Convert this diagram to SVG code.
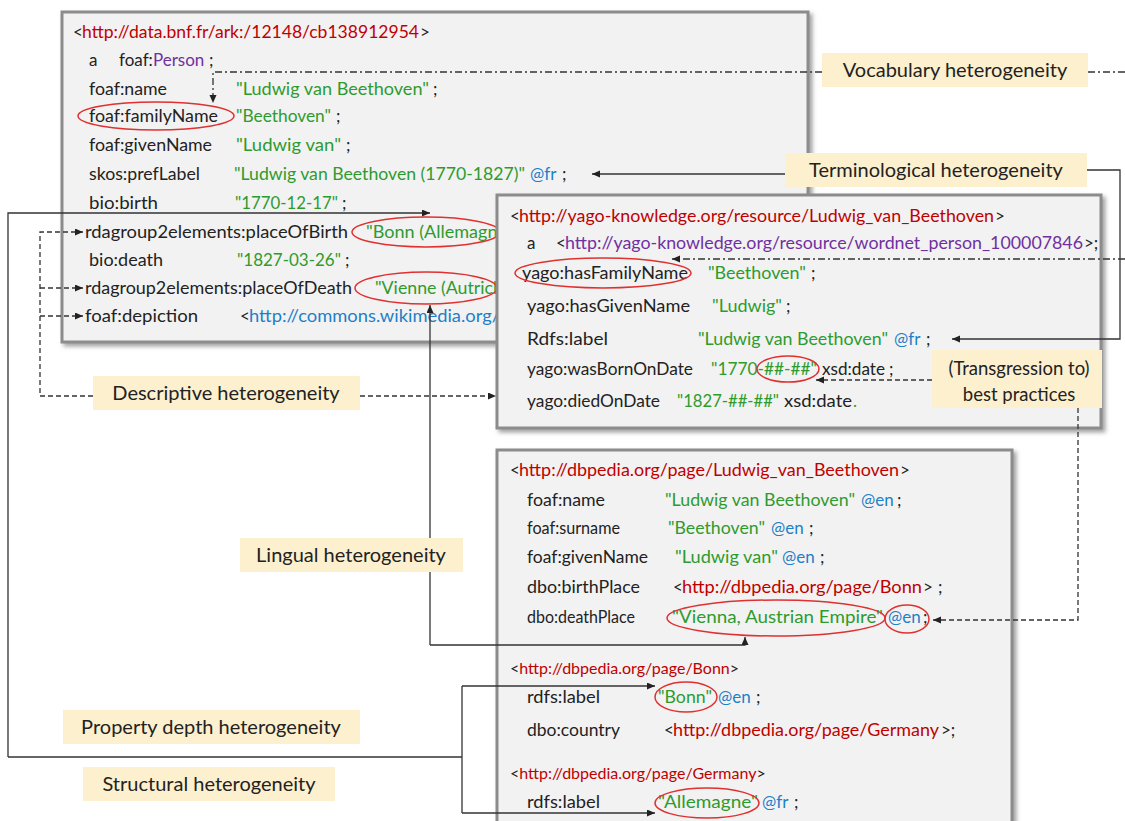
<svg xmlns="http://www.w3.org/2000/svg" width="1125" height="821" viewBox="0 0 1125 821">
<style>
text{font-family:Lato,"Open Sans","Liberation Sans",sans-serif;font-size:17px;fill:#222}
.r{fill:#C00000}.g{fill:#2E9B2E}.p{fill:#7030A0}.b{fill:#1F7FC8}
.box{fill:#F2F2F2;stroke:#8C8C8C;stroke-width:3}
.ell{fill:none;stroke:#E03030;stroke-width:1.5}
.lab{fill:#FDF0CF}
.lt{font-size:20px;text-anchor:middle}
.c{fill:none;stroke:#333;stroke-width:1.3}
.dd{stroke-dasharray:7 3 2 3}
.da{stroke-dasharray:5 3}
</style>
<defs>
<marker id="arr" markerUnits="userSpaceOnUse" markerWidth="9" markerHeight="8" refX="8" refY="3.5" orient="auto"><path d="M0,0 L8,3.5 L0,7 z" fill="#222"/></marker>
<filter id="sh" x="-5%" y="-5%" width="110%" height="110%"><feDropShadow dx="3" dy="3" stdDeviation="2" flood-color="#666" flood-opacity="0.6"/></filter>
</defs>

<g id="node-bnf">
<rect class="box" x="62" y="12" width="746" height="330" filter="url(#sh)"/>
<text x="73" y="38">&lt;</text><text class="r" x="82" y="38" textLength="337" lengthAdjust="spacingAndGlyphs">http://data.bnf.fr/ark:/12148/cb138912954</text><text x="420" y="38">&gt;</text>
<text x="89" y="66">a</text><text x="119" y="66">foaf:</text><text class="p" x="153" y="66">Person</text><text x="209" y="66">;</text>
<text x="89" y="95" textLength="78" lengthAdjust="spacingAndGlyphs">foaf:name</text><text class="g" x="236" y="95" textLength="193" lengthAdjust="spacingAndGlyphs">"Ludwig van Beethoven"</text><text x="433" y="95">;</text>
<text x="89" y="122" textLength="129" lengthAdjust="spacingAndGlyphs">foaf:familyName</text><text class="g" x="236" y="122" textLength="95" lengthAdjust="spacingAndGlyphs">"Beethoven"</text><text x="336" y="122">;</text>
<text x="89" y="151" textLength="123" lengthAdjust="spacingAndGlyphs">foaf:givenName</text><text class="g" x="236" y="151" textLength="105" lengthAdjust="spacingAndGlyphs">"Ludwig van"</text><text x="346" y="151">;</text>
<text x="89" y="180" textLength="111" lengthAdjust="spacingAndGlyphs">skos:prefLabel</text><text class="g" x="234" y="180" textLength="291" lengthAdjust="spacingAndGlyphs">"Ludwig van Beethoven (1770-1827)"</text><text class="b" x="530" y="180">@fr</text><text x="562" y="180">;</text>
<text x="89" y="209" textLength="69" lengthAdjust="spacingAndGlyphs">bio:birth</text><text class="g" x="235" y="209" textLength="103" lengthAdjust="spacingAndGlyphs">"1770-12-17"</text><text x="342" y="209">;</text>
<text x="85" y="238" textLength="263" lengthAdjust="spacingAndGlyphs">rdagroup2elements:placeOfBirth</text><text class="g" x="366" y="238" textLength="141" lengthAdjust="spacingAndGlyphs">"Bonn (Allemagne</text>
<text x="89" y="266" textLength="74" lengthAdjust="spacingAndGlyphs">bio:death</text><text class="g" x="237" y="266" textLength="104" lengthAdjust="spacingAndGlyphs">"1827-03-26"</text><text x="345" y="266">;</text>
<text x="85" y="294" textLength="267" lengthAdjust="spacingAndGlyphs">rdagroup2elements:placeOfDeath</text><text class="g" x="375" y="294" textLength="128" lengthAdjust="spacingAndGlyphs">"Vienne (Autrich</text>
<text x="85" y="322" textLength="113" lengthAdjust="spacingAndGlyphs">foaf:depiction</text><text x="240" y="322">&lt;</text><text class="b" x="249" y="322" textLength="251" lengthAdjust="spacingAndGlyphs">http://commons.wikimedia.org/</text>
<ellipse class="ell" cx="156" cy="116" rx="78" ry="14"/>
<ellipse class="ell" cx="426" cy="232" rx="74" ry="15"/>
<ellipse class="ell" cx="426" cy="288" rx="71" ry="16"/>
</g>

<g id="node-yago">
<rect class="box" x="497" y="195" width="604" height="233" filter="url(#sh)"/>
<text x="510" y="222">&lt;</text><text class="r" x="519" y="222" textLength="475" lengthAdjust="spacingAndGlyphs">http://yago-knowledge.org/resource/Ludwig_van_Beethoven</text><text x="995" y="222">&gt;</text>
<text x="527" y="249">a</text><text x="556" y="249">&lt;</text><text class="p" x="565" y="249" textLength="518" lengthAdjust="spacingAndGlyphs">http://yago-knowledge.org/resource/wordnet_person_100007846</text><text x="1084" y="249">&gt;;</text>
<text x="522" y="279" textLength="166" lengthAdjust="spacingAndGlyphs">yago:hasFamilyName</text><text class="g" x="708" y="279" textLength="98" lengthAdjust="spacingAndGlyphs">"Beethoven"</text><text x="811" y="279">;</text>
<text x="527" y="312" textLength="163" lengthAdjust="spacingAndGlyphs">yago:hasGivenName</text><text class="g" x="712" y="312" textLength="70" lengthAdjust="spacingAndGlyphs">"Ludwig"</text><text x="786" y="312">;</text>
<text x="527" y="345" textLength="81" lengthAdjust="spacingAndGlyphs">Rdfs:label</text><text class="g" x="698" y="345" textLength="190" lengthAdjust="spacingAndGlyphs">"Ludwig van Beethoven"</text><text class="b" x="894" y="345">@fr</text><text x="926" y="345">;</text>
<text x="527" y="375" textLength="166" lengthAdjust="spacingAndGlyphs">yago:wasBornOnDate</text><text class="g" x="711" y="375" textLength="106" lengthAdjust="spacingAndGlyphs">"1770-##-##"</text><text x="822" y="375" textLength="63" lengthAdjust="spacingAndGlyphs">xsd:date</text><text x="889" y="375">;</text>
<text x="527" y="407" textLength="133" lengthAdjust="spacingAndGlyphs">yago:diedOnDate</text><text class="g" x="677" y="407" textLength="102" lengthAdjust="spacingAndGlyphs">"1827-##-##"</text><text x="784" y="407" textLength="68" lengthAdjust="spacingAndGlyphs">xsd:date</text><text class="g" x="853" y="407">.</text>
<ellipse class="ell" cx="603" cy="273" rx="88" ry="15"/>
<ellipse class="ell" cx="788" cy="369" rx="31" ry="13"/>
</g>

<g id="node-dbpedia">
<rect class="box" x="497" y="450" width="515" height="385" filter="url(#sh)"/>
<text x="510" y="476">&lt;</text><text class="r" x="519" y="476" textLength="380" lengthAdjust="spacingAndGlyphs">http://dbpedia.org/page/Ludwig_van_Beethoven</text><text x="900" y="476">&gt;</text>
<text x="527" y="506" textLength="78" lengthAdjust="spacingAndGlyphs">foaf:name</text><text class="g" x="665" y="506" textLength="190" lengthAdjust="spacingAndGlyphs">"Ludwig van Beethoven"</text><text class="b" x="861" y="506">@en</text><text x="897" y="506">;</text>
<text x="527" y="534" textLength="93" lengthAdjust="spacingAndGlyphs">foaf:surname</text><text class="g" x="668" y="534" textLength="97" lengthAdjust="spacingAndGlyphs">"Beethoven"</text><text class="b" x="771" y="534">@en</text><text x="809" y="534">;</text>
<text x="527" y="563" textLength="121" lengthAdjust="spacingAndGlyphs">foaf:givenName</text><text class="g" x="675" y="563" textLength="103" lengthAdjust="spacingAndGlyphs">"Ludwig van"</text><text class="b" x="782" y="563">@en</text><text x="820" y="563">;</text>
<text x="527" y="593" textLength="113" lengthAdjust="spacingAndGlyphs">dbo:birthPlace</text><text x="673" y="593">&lt;</text><text class="r" x="682" y="593" textLength="240" lengthAdjust="spacingAndGlyphs">http://dbpedia.org/page/Bonn</text><text x="923" y="593">&gt;</text><text x="938" y="593">;</text>
<text x="527" y="623" textLength="108" lengthAdjust="spacingAndGlyphs">dbo:deathPlace</text><text class="g" x="672" y="623" textLength="211" lengthAdjust="spacingAndGlyphs">"Vienna, Austrian Empire"</text><text class="b" x="888" y="623">@en</text><text x="923" y="623">;</text>
<ellipse class="ell" cx="776" cy="618" rx="109" ry="18"/>
<ellipse class="ell" cx="907" cy="619" rx="22" ry="14"/>
<text x="510" y="674" style="font-size:16px">&lt;<tspan class="r">http://dbpedia.org/page/Bonn</tspan>&gt;</text>
<text x="527" y="703" textLength="73" lengthAdjust="spacingAndGlyphs">rdfs:label</text><text class="g" x="658" y="703" textLength="54" lengthAdjust="spacingAndGlyphs">"Bonn"</text><text class="b" x="718" y="703">@en</text><text x="756" y="703">;</text>
<text x="527" y="736" textLength="93" lengthAdjust="spacingAndGlyphs">dbo:country</text><text x="664" y="736">&lt;</text><text class="r" x="673" y="736" textLength="266" lengthAdjust="spacingAndGlyphs">http://dbpedia.org/page/Germany</text><text x="941" y="736">&gt;;</text>
<ellipse class="ell" cx="686" cy="697" rx="31" ry="15"/>
<text x="510" y="779" style="font-size:16px">&lt;<tspan class="r">http://dbpedia.org/page/Germany</tspan>&gt;</text>
<text x="527" y="808" textLength="73" lengthAdjust="spacingAndGlyphs">rdfs:label</text><text class="g" x="658" y="808" textLength="100" lengthAdjust="spacingAndGlyphs">"Allemagne"</text><text class="b" x="762" y="808">@fr</text><text x="794" y="808">;</text>
<ellipse class="ell" cx="707" cy="803" rx="52" ry="15"/>
</g>

<g id="connectors">
<path class="c dd" d="M822,72 H213 V103" marker-end="url(#arr)"/>
<path class="c dd" d="M1088,72 H1125"/>
<path class="c dd" d="M1125,259 H672" marker-end="url(#arr)"/>
<path class="c" d="M785,174 H592" marker-end="url(#arr)"/>
<path class="c" d="M1087,170 H1120 V339 H952" marker-end="url(#arr)"/>
<path class="c da" d="M932,380 H816" marker-end="url(#arr)"/>
<path class="c da" d="M1078,408 V620 H933" marker-end="url(#arr)"/>
<path class="c da" d="M360,396 H496" marker-end="url(#arr)"/>
<path class="c da" d="M93,396 H40 V232 H83" marker-end="url(#arr)"/>
<path class="c da" d="M40,288 H83" marker-end="url(#arr)"/>
<path class="c da" d="M40,316 H83" marker-end="url(#arr)"/>
<path class="c" d="M430,645 V305" marker-end="url(#arr)"/>
<path class="c" d="M430,645 H745 V637" marker-end="url(#arr)"/>
<path class="c" d="M8,757 V213 H430" marker-end="url(#arr)"/>
<path class="c" d="M8,757 H462"/>
<path class="c" d="M462,686 V813"/>
<path class="c" d="M462,686 H655" marker-end="url(#arr)"/>
<path class="c" d="M462,813 H655" marker-end="url(#arr)"/>
</g>

<g id="label-vocabulary"><rect class="lab" x="822" y="53" width="266" height="34"/><text class="lt" x="955" y="77">Vocabulary heterogeneity</text></g>
<g id="label-terminological"><rect class="lab" x="785" y="153" width="302" height="34"/><text class="lt" x="936" y="177">Terminological heterogeneity</text></g>
<g id="label-transgression"><rect class="lab" x="932" y="350" width="170" height="58"/><text class="lt" x="1019" y="375" style="font-size:18.5px">(Transgression to)</text><text class="lt" x="1019" y="401" style="font-size:18.5px">best practices</text></g>
<g id="label-descriptive"><rect class="lab" x="93" y="376" width="267" height="34"/><text class="lt" x="226" y="400">Descriptive heterogeneity</text></g>
<g id="label-lingual"><rect class="lab" x="240" y="538" width="223" height="34"/><text class="lt" x="351" y="562">Lingual heterogeneity</text></g>
<g id="label-property-depth"><rect class="lab" x="63" y="710" width="297" height="34"/><text class="lt" x="211" y="734">Property depth heterogeneity</text></g>
<g id="label-structural"><rect class="lab" x="83" y="767" width="252" height="34"/><text class="lt" x="209" y="791">Structural heterogeneity</text></g>
</svg>
